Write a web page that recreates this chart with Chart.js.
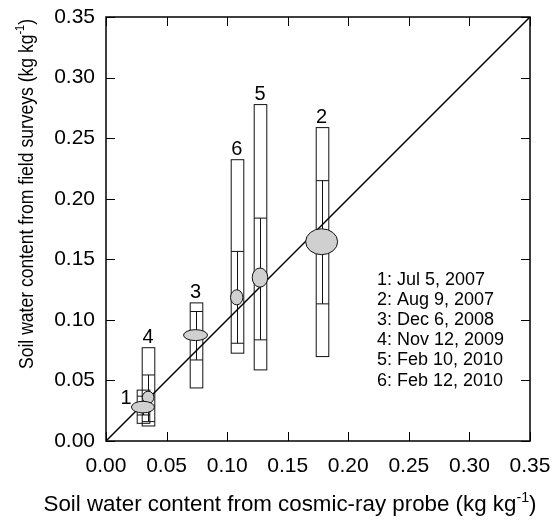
<!DOCTYPE html>
<html>
<head>
<meta charset="utf-8">
<script src="https://cdn.jsdelivr.net/npm/chart.js@4/dist/chart.umd.min.js"></script>
<style>
  html, body { margin: 0; padding: 0; background: #fff; }
</style>
</head>
<body>
<canvas id="myChart" width="552" height="521"></canvas>
<script>
// survey dates, numbered as in the figure
const surveyIds = ["1", "2", "3", "4", "5", "6"];
const surveyDates = ["Jul 5, 2007", "Aug 9, 2007", "Dec 6, 2008", "Nov 12, 2009", "Feb 10, 2010", "Feb 12, 2010"];

// cosmic-ray probe (x): mean and spread (ellipse half width)
const probeMean = [0.0305, 0.178, 0.0739, 0.0348, 0.1271, 0.1079];
const probeSpread = [0.0095, 0.0132, 0.0099, 0.0048, 0.0064, 0.0051];

// field surveys (y): mean, spread, and box values
const fieldMean = [0.028, 0.1645, 0.0874, 0.036, 0.1349, 0.1186];
const fieldSpread = [0.0048, 0.0107, 0.0045, 0.0051, 0.0079, 0.0062];
const fieldMin = [0.0146, 0.0697, 0.0438, 0.0124, 0.0587, 0.0725];
const fieldLow = [0.0215, 0.1132, 0.0669, 0.016, 0.0835, 0.0807];
const fieldHigh = [0.037, 0.2149, 0.1069, 0.0545, 0.184, 0.1565];
const fieldMax = [0.042, 0.2587, 0.114, 0.077, 0.2777, 0.2322];

const axisTicks = [0, 0.05, 0.1, 0.15, 0.2, 0.25, 0.3, 0.35];
const oneToOne = [{ x: 0, y: 0 }, { x: 0.35, y: 0.35 }];

const FONT = "'Liberation Sans', Arial, sans-serif";

// title with a superscript, optionally rotated and squeezed to a given length
function drawTitle(ctx, x, y, size, text, sup, tail, rotate, fitLen) {
  ctx.save();
  ctx.translate(x, y);
  if (rotate) ctx.rotate(-Math.PI / 2);
  ctx.fillStyle = "#000";
  ctx.textAlign = "left";
  ctx.textBaseline = "alphabetic";
  ctx.font = size + "px " + FONT;
  const w1 = ctx.measureText(text).width;
  const w3 = ctx.measureText(tail).width;
  ctx.font = Math.round(size * 0.62) + "px " + FONT;
  const w2 = ctx.measureText(sup).width;
  const total = w1 + w2 + w3;
  if (fitLen) ctx.scale(fitLen / total, 1);
  const sx = -total / 2;
  ctx.font = size + "px " + FONT;
  ctx.fillText(text, sx, 0);
  ctx.font = Math.round(size * 0.62) + "px " + FONT;
  ctx.fillText(sup, sx + w1, -size * 0.42);
  ctx.font = size + "px " + FONT;
  ctx.fillText(tail, sx + w1 + w2, 0);
  ctx.restore();
}

const boxPlugin = {
  id: "boxes",
  beforeDatasetsDraw(chart) {
    const { ctx, scales: { x, y } } = chart;
    ctx.save();
    ctx.strokeStyle = "#111";
    ctx.lineWidth = 1;
    const hw = 6.3;
    for (let i = 0; i < surveyIds.length; i++) {
      const cx = Math.round(x.getPixelForValue(probeMean[i])) + 0.5;
      const top = y.getPixelForValue(fieldMax[i]);
      const bot = y.getPixelForValue(fieldMin[i]);
      const hi = y.getPixelForValue(fieldHigh[i]);
      const lo = y.getPixelForValue(fieldLow[i]);
      ctx.strokeRect(cx - hw, top, hw * 2, bot - top);
      ctx.beginPath();
      ctx.moveTo(cx - hw, hi); ctx.lineTo(cx + hw, hi);
      ctx.moveTo(cx - hw, lo); ctx.lineTo(cx + hw, lo);
      ctx.moveTo(cx, hi); ctx.lineTo(cx, lo);
      ctx.stroke();
    }
    ctx.restore();
  },
  afterDatasetsDraw(chart) {
    const { ctx, chartArea: a, scales: { x, y } } = chart;
    ctx.save();
    // ellipses for the means
    for (let i = surveyIds.length - 1; i >= 0; i--) {
      const cx = x.getPixelForValue(probeMean[i]);
      const cy = y.getPixelForValue(fieldMean[i]);
      const rx = x.getPixelForValue(probeMean[i] + probeSpread[i]) - cx;
      const ry = cy - y.getPixelForValue(fieldMean[i] + fieldSpread[i]);
      ctx.beginPath();
      ctx.ellipse(cx, cy, rx, ry, 0, 0, Math.PI * 2);
      ctx.fillStyle = "#d0d0d0";
      ctx.fill();
      ctx.strokeStyle = "#111";
      ctx.lineWidth = 1;
      ctx.stroke();
    }
    // survey numbers
    ctx.fillStyle = "#000";
    ctx.font = "20px " + FONT;
    ctx.textAlign = "center";
    ctx.textBaseline = "alphabetic";
    for (let i = 0; i < surveyIds.length; i++) {
      const cx = x.getPixelForValue(probeMean[i]);
      const top = y.getPixelForValue(fieldMax[i]);
      if (i === 0) {
        ctx.fillText(surveyIds[i], cx - 17, y.getPixelForValue(fieldMean[i]) - 3);
      } else {
        ctx.fillText(surveyIds[i], cx, top - 5);
      }
    }
    // date list
    ctx.font = "18px " + FONT;
    ctx.textAlign = "left";
    for (let i = 0; i < surveyIds.length; i++) {
      ctx.fillText(surveyIds[i] + ": " + surveyDates[i], 377, 284.5 + i * 20.2);
    }
    // frame and inward ticks on all four sides
    ctx.strokeStyle = "#000";
    ctx.lineWidth = 1.5;
    ctx.strokeRect(a.left, a.top, a.right - a.left, a.bottom - a.top);
    ctx.lineWidth = 1;
    ctx.beginPath();
    const tl = 9;
    axisTicks.forEach(v => {
      const px = Math.round(x.getPixelForValue(v)) + 0.5;
      const py = Math.round(y.getPixelForValue(v)) + 0.5;
      ctx.moveTo(px, a.bottom); ctx.lineTo(px, a.bottom - tl);
      ctx.moveTo(px, a.top); ctx.lineTo(px, a.top + tl);
      ctx.moveTo(a.left, py); ctx.lineTo(a.left + tl, py);
      ctx.moveTo(a.right, py); ctx.lineTo(a.right - tl, py);
    });
    ctx.stroke();
    ctx.restore();
    // axis titles
    drawTitle(ctx, 290, 511, 22, "Soil water content from cosmic-ray probe (kg kg", "-1", ")", false, 493);
    drawTitle(ctx, 33, 194, 21, "Soil water content from field surveys (kg kg", "-1", ")", true, 350);
  }
};

new Chart(document.getElementById("myChart"), {
  type: "scatter",
  data: {
    datasets: [
      {
        label: "1:1",
        data: oneToOne,
        showLine: true,
        borderColor: "#000",
        borderWidth: 1.5,
        pointRadius: 0,
        fill: false
      }
    ]
  },
  options: {
    responsive: false,
    animation: false,
    layout: { padding: { left: 0, right: 22, top: 17, bottom: 0 } },
    plugins: { legend: { display: false }, tooltip: { enabled: false } },
    scales: {
      x: {
        type: "linear",
        min: 0,
        max: 0.35,
        afterBuildTicks: s => { s.ticks = axisTicks.map(v => ({ value: v })); },
        ticks: {
          callback: v => v.toFixed(2),
          font: { family: FONT, size: 21 },
          color: "#000",
          padding: 5,
          maxRotation: 0,
          autoSkip: false
        },
        grid: { display: false },
        border: { display: false },
        afterFit: s => { s.height = 80; s.paddingLeft = 0; s.paddingRight = 0; }
      },
      y: {
        type: "linear",
        min: 0,
        max: 0.35,
        afterBuildTicks: s => { s.ticks = axisTicks.map(v => ({ value: v })); },
        ticks: {
          callback: v => v.toFixed(2),
          font: { family: FONT, size: 21 },
          color: "#000",
          padding: 3,
          autoSkip: false
        },
        grid: { display: false },
        border: { display: false },
        afterFit: s => { s.width = 106; s.paddingTop = 0; s.paddingBottom = 0; }
      }
    }
  },
  plugins: [boxPlugin]
});
</script>
</body>
</html>
